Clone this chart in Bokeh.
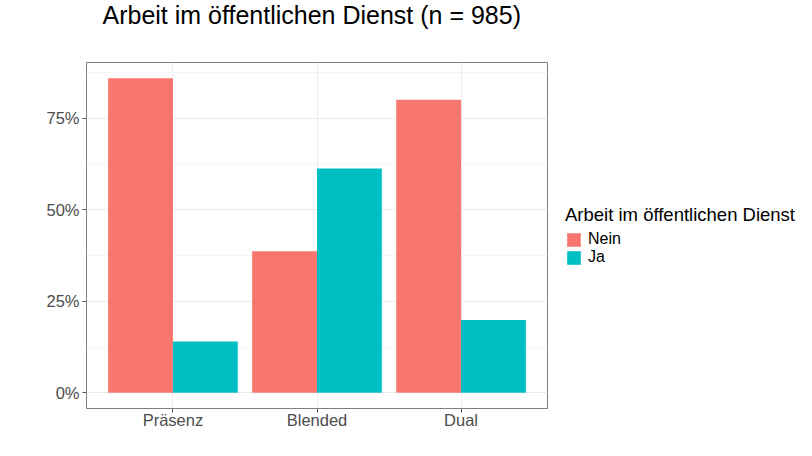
from bokeh.plotting import figure
from bokeh.layouts import row
from bokeh.models import (ColumnDataSource, FactorRange, Range1d, FixedTicker,
                          NumeralTickFormatter, Legend, LegendItem, Title)
from bokeh.transform import dodge
from bokeh.embed import file_html
from bokeh.resources import INLINE

# Data
categories = ["Präsenz", "Blended", "Dual"]
nein = [0.860, 0.387, 0.801]
ja = [0.140, 0.613, 0.199]
groups = ["Nein", "Ja"]
colors = ["#F8766D", "#00BFC4"]
y_ticks = [0.0, 0.25, 0.50, 0.75]
title_text = "Arbeit im öffentlichen Dienst (n = 985)"
legend_title = "Arbeit im öffentlichen Dienst"

FONT = "Liberation Sans"

source = ColumnDataSource(dict(cat=categories, nein=nein, ja=ja))

ymax = max(max(nein), max(ja))
pad = 0.05 * ymax

p = figure(width=548, height=456, output_backend="svg", toolbar_location=None,
           x_range=FactorRange(*categories, range_padding=0.1,
                               range_padding_units="absolute"),
           y_range=Range1d(-pad, ymax + pad),
           min_border_left=86, min_border_right=1,
           min_border_top=0, min_border_bottom=48)

p.background_fill_color = "white"
p.border_fill_color = "white"
p.outline_line_color = "#7f7f7f"
p.outline_line_width = 1

r_nein = p.vbar(x=dodge("cat", -0.225, range=p.x_range), top="nein", bottom=0,
                width=0.45, source=source, fill_color=colors[0], line_color=None)
r_ja = p.vbar(x=dodge("cat", 0.225, range=p.x_range), top="ja", bottom=0,
              width=0.45, source=source, fill_color=colors[1], line_color=None)

# spacer between title and frame
p.add_layout(Title(text=" ", text_font_size="1px", standoff=33), "above")

# Title
p.title.text = title_text
p.title.text_font = FONT
p.title.text_font_size = "25px"
p.title.text_font_style = "normal"
p.title.text_color = "black"
p.title.align = "left"
p.title.offset = 16
p.title.standoff = -4

# Axes
p.yaxis.ticker = FixedTicker(ticks=y_ticks,
                             minor_ticks=[0.125, 0.375, 0.625, 0.875])
p.yaxis.formatter = NumeralTickFormatter(format="0%")
for ax in (p.xaxis, p.yaxis):
    ax.axis_line_color = None
    ax.major_tick_line_color = "#555555"
    ax.major_tick_out = 4
    ax.major_tick_in = 0
    ax.minor_tick_line_color = None
    ax.major_label_text_font = FONT
    ax.major_label_text_font_size = "16.5px"
    ax.major_label_text_color = "#4D4D4D"
p.yaxis.major_label_standoff = 3
p.xaxis.major_label_standoff = -2

# Grids
p.xgrid.grid_line_color = "#EBEBEB"
p.ygrid.grid_line_color = "#EBEBEB"
p.ygrid.minor_grid_line_color = "#F4F4F4"
p.xgrid.grid_line_width = 1
p.ygrid.grid_line_width = 1

# Legend panel (separate figure to the right); key glyphs lie outside its range
lg = figure(width=264, height=456, output_backend="svg", toolbar_location=None,
            x_range=Range1d(0, 1), y_range=Range1d(0, 1),
            min_border=0, x_axis_location=None, y_axis_location=None)
lg.outline_line_color = None
lg.grid.visible = False
lg.background_fill_color = "white"
lg.border_fill_color = "white"
k_nein = lg.vbar(x=[5], top=[6], bottom=[5.5], width=0.1,
                 fill_color=colors[0], line_color=None)
k_ja = lg.vbar(x=[5], top=[6], bottom=[5.5], width=0.1,
               fill_color=colors[1], line_color=None)

legend = Legend(items=[LegendItem(label=groups[0], renderers=[k_nein]),
                       LegendItem(label=groups[1], renderers=[k_ja])],
                location=(17, 142), title=legend_title)
legend.title_text_font = FONT
legend.title_text_font_size = "18.5px"
legend.title_text_font_style = "normal"
legend.title_text_color = "black"
legend.title_standoff = 4
legend.label_text_font = FONT
legend.label_text_font_size = "16px"
legend.label_text_color = "black"
legend.glyph_width = 17
legend.glyph_height = 17
legend.label_height = 17
legend.label_standoff = 6
legend.spacing = 0
legend.padding = 0
legend.margin = 0
legend.border_line_color = None
legend.background_fill_alpha = 0
lg.add_layout(legend, "center")

layout = row(p, lg, spacing=0)

open("out.html", "w").write(file_html(layout, INLINE))
